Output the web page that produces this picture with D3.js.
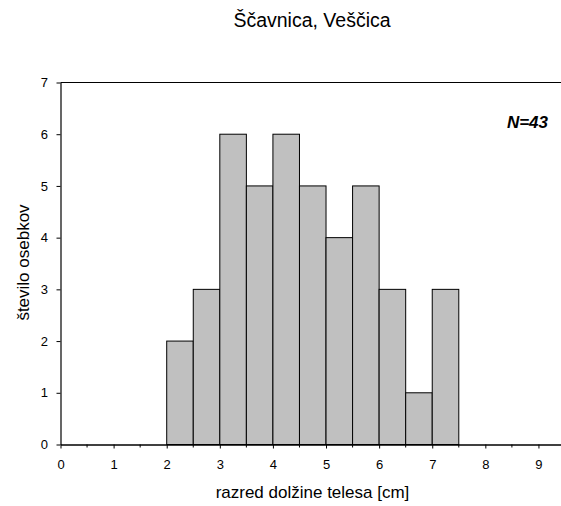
<!DOCTYPE html>
<html><head><meta charset="utf-8">
<script src="https://cdn.jsdelivr.net/npm/d3@7"></script>
<style>body{margin:0;background:#fff;overflow:hidden}svg{display:block}text{font-family:"Liberation Sans",Arial,sans-serif}</style>
</head><body>
<script>
const binStarts = [2, 2.5, 3, 3.5, 4, 4.5, 5, 5.5, 6, 6.5, 7];
const counts = [2, 3, 6, 5, 6, 5, 4, 5, 3, 1, 3];
const binWidth = 0.5;
const xTickValues = [0,1,2,3,4,5,6,7,8,9];
const xMinorTicks = [0.5,1.5,2.5,3.5,4.5,5.5,6.5,7.5,8.5];
const yTickValues = [0,1,2,3,4,5,6,7];
const title = "Ščavnica, Veščica";
const xTitle = "razred dolžine telesa [cm]";
const yTitle = "število osebkov";
const note = "N=43";

const W = 561, H = 506;
const svg = d3.select("body").append("svg").attr("width", W).attr("height", H);
const x = d3.scaleLinear().domain([0, 9.5]).range([60.5, 565]);
const y = d3.scaleLinear().domain([0, 7]).range([444.5, 82.5]);

// bars
svg.append("g").selectAll("rect").data(binStarts).join("rect")
  .attr("x", d => x(d))
  .attr("y", (d,i) => y(counts[i]))
  .attr("width", d => x(d + binWidth) - x(d))
  .attr("height", (d,i) => y(0) - y(counts[i]))
  .attr("fill", "#c0c0c0").attr("stroke", "#000").attr("stroke-width", 1);

// top border
svg.append("line").attr("x1", x(0)).attr("x2", x(9.5)).attr("y1", y(7)).attr("y2", y(7))
  .attr("stroke", "#000").attr("stroke-width", 1);

// x axis
const xa = svg.append("g").attr("transform", `translate(0,${y(0)})`)
  .call(d3.axisBottom(x).tickValues(xTickValues).tickSize(4).tickPadding(11.5).tickSizeOuter(0).tickFormat(d3.format("d")));
xa.select(".domain").attr("stroke-width", 1.5);
xa.selectAll("text").attr("font-size", 13).attr("fill", "#000");
xa.selectAll(".minor").data(xMinorTicks).join("line").attr("class","minor")
  .attr("x1", d => x(d)).attr("x2", d => x(d)).attr("y1", 0).attr("y2", 3).attr("stroke", "#000");

// y axis
const ya = svg.append("g").attr("transform", `translate(${x(0)},0)`)
  .call(d3.axisLeft(y).tickValues(yTickValues).tickSize(4).tickPadding(8.5).tickSizeOuter(0).tickFormat(d3.format("d")));
ya.select(".domain").attr("stroke-width", 1.2);
ya.selectAll("text").attr("font-size", 13).attr("fill", "#000");

// titles
svg.append("text").attr("x", 312).attr("y", 27).attr("text-anchor", "middle")
  .attr("font-size", 19.5).attr("fill", "#000").text(title);
svg.append("text").attr("x", 312.5).attr("y", 498).attr("text-anchor", "middle")
  .attr("font-size", 17).attr("fill", "#000").text(xTitle);
svg.append("text").attr("transform", "translate(29,262.5) rotate(-90)").attr("text-anchor", "middle")
  .attr("font-size", 17).attr("fill", "#000").text(yTitle);
svg.append("text").attr("x", 548).attr("y", 127.5).attr("text-anchor", "end")
  .attr("font-size", 17).attr("font-weight", "bold").attr("font-style", "italic").attr("fill", "#000").text(note);
</script>
</body></html>
